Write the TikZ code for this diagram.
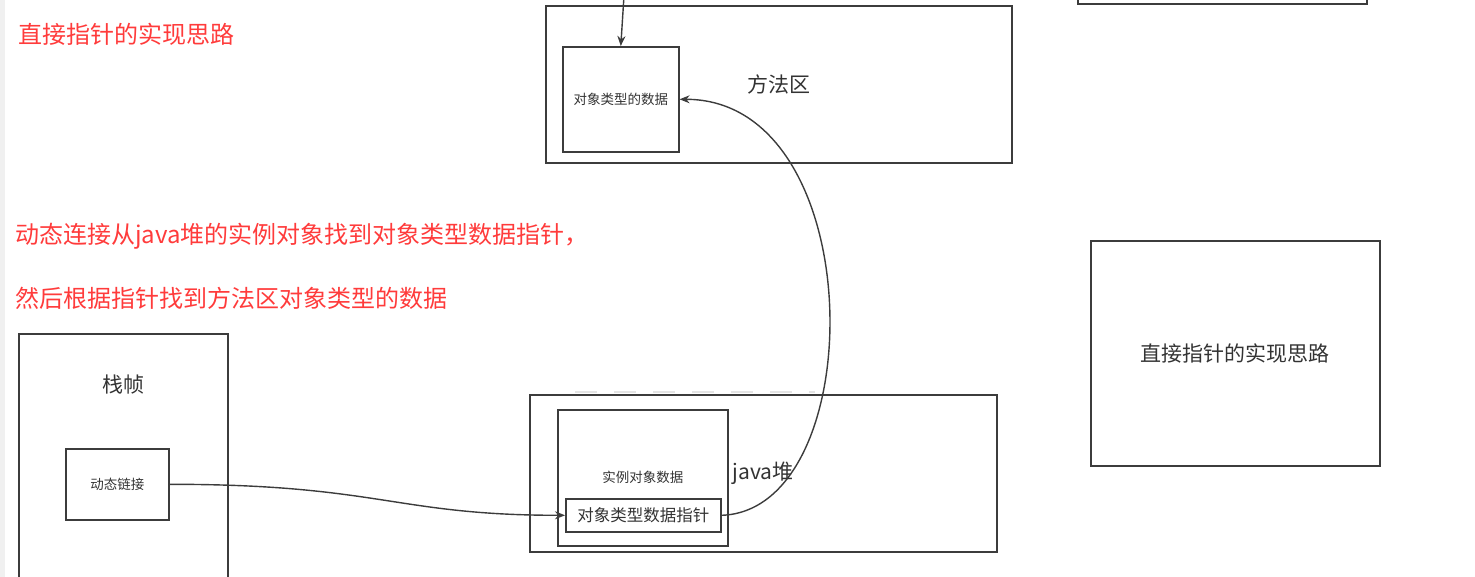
\documentclass[tikz,border=0pt]{standalone}
\usepackage{fontspec}
\setmainfont{Noto Sans CJK SC}
\usepackage{tikz}
\usetikzlibrary{positioning,arrows.meta}
\definecolor{ink}{HTML}{333333}
\definecolor{edge}{HTML}{3C3C3C}
\definecolor{note}{HTML}{FF3B3B}
\definecolor{strip}{HTML}{F0F0F0}
\definecolor{ghost}{HTML}{E4E4E4}

\begin{document}
\begin{tikzpicture}[x=1pt,y=-1pt,
    box/.style={draw=edge, line width=1.6pt, inner sep=0pt, text=ink,
                anchor=north west, align=center},
    big/.style={font=\fontsize{21}{25}\selectfont},
    tiny/.style={font=\fontsize{13.5}{16}\selectfont},
    mid/.style={font=\fontsize{16.5}{19}\selectfont},
    note/.style={text=note, anchor=west, inner sep=0pt,
                 font=\fontsize{24}{28}\selectfont},
    link/.style={draw=edge, line width=1.4pt, -{Stealth[length=10pt,width=8pt]}}]
  \clip (0,0) rectangle (1475,577);
  \fill[strip] (0,0) rectangle (5,577);

  % notes
  \node[note] (title) at (18,34) {直接指针的实现思路};
  \node[note] (step1) at (15,236) {动态连接从java堆的实例对象找到对象类型数据指针，};
  \node[note] (step2) at (15,298) {然后根据指针找到方法区对象类型的数据};

  % method area
  \node[box, big, minimum width=466pt, minimum height=157pt] (method) at (545,5) {方法区};
  \node[box, tiny, minimum width=116pt, minimum height=105pt] (typedata) at (562,46) {对象类型的数据};
  \node[box, minimum width=289pt, minimum height=43pt] (upper) at (1077,-40) {};

  % stack frame
  \node[box, minimum width=209pt, minimum height=300pt] (frame) at (18,333) {};
  \node[big, text=ink] (framelbl) at (123,385) {栈帧};
  \node[box, tiny, minimum width=103pt, minimum height=71pt] (dynlink) at (65,448) {动态链接};

  % java heap
  \draw[ghost, line width=1.6pt, dash pattern=on 22pt off 17pt] (575,392) -- (815,392);
  \node[box, big, minimum width=467pt, minimum height=157pt] (heap) at (529,394) {java堆};
  \node[box, tiny, minimum width=170pt, minimum height=136pt] (instance) at (557,409) {实例对象数据};
  \node[box, mid, minimum width=155pt, minimum height=33pt, fill=white] (pointer) at (565,498) {对象类型数据指针};

  \node[box, big, minimum width=289pt, minimum height=225pt] (idea) at (1090,240) {直接指针的实现思路};

  % connectors
  \coordinate (topin) at (625,-20);
  \draw[link] (topin) -- (typedata.north);
  \draw[link] (dynlink.east) .. controls +(210,0) and +(-170,0) .. (pointer.west);
  \draw[link] (pointer.east) .. controls +(150,-5) and +(192,0) .. (typedata.east);
\end{tikzpicture}
\end{document}
